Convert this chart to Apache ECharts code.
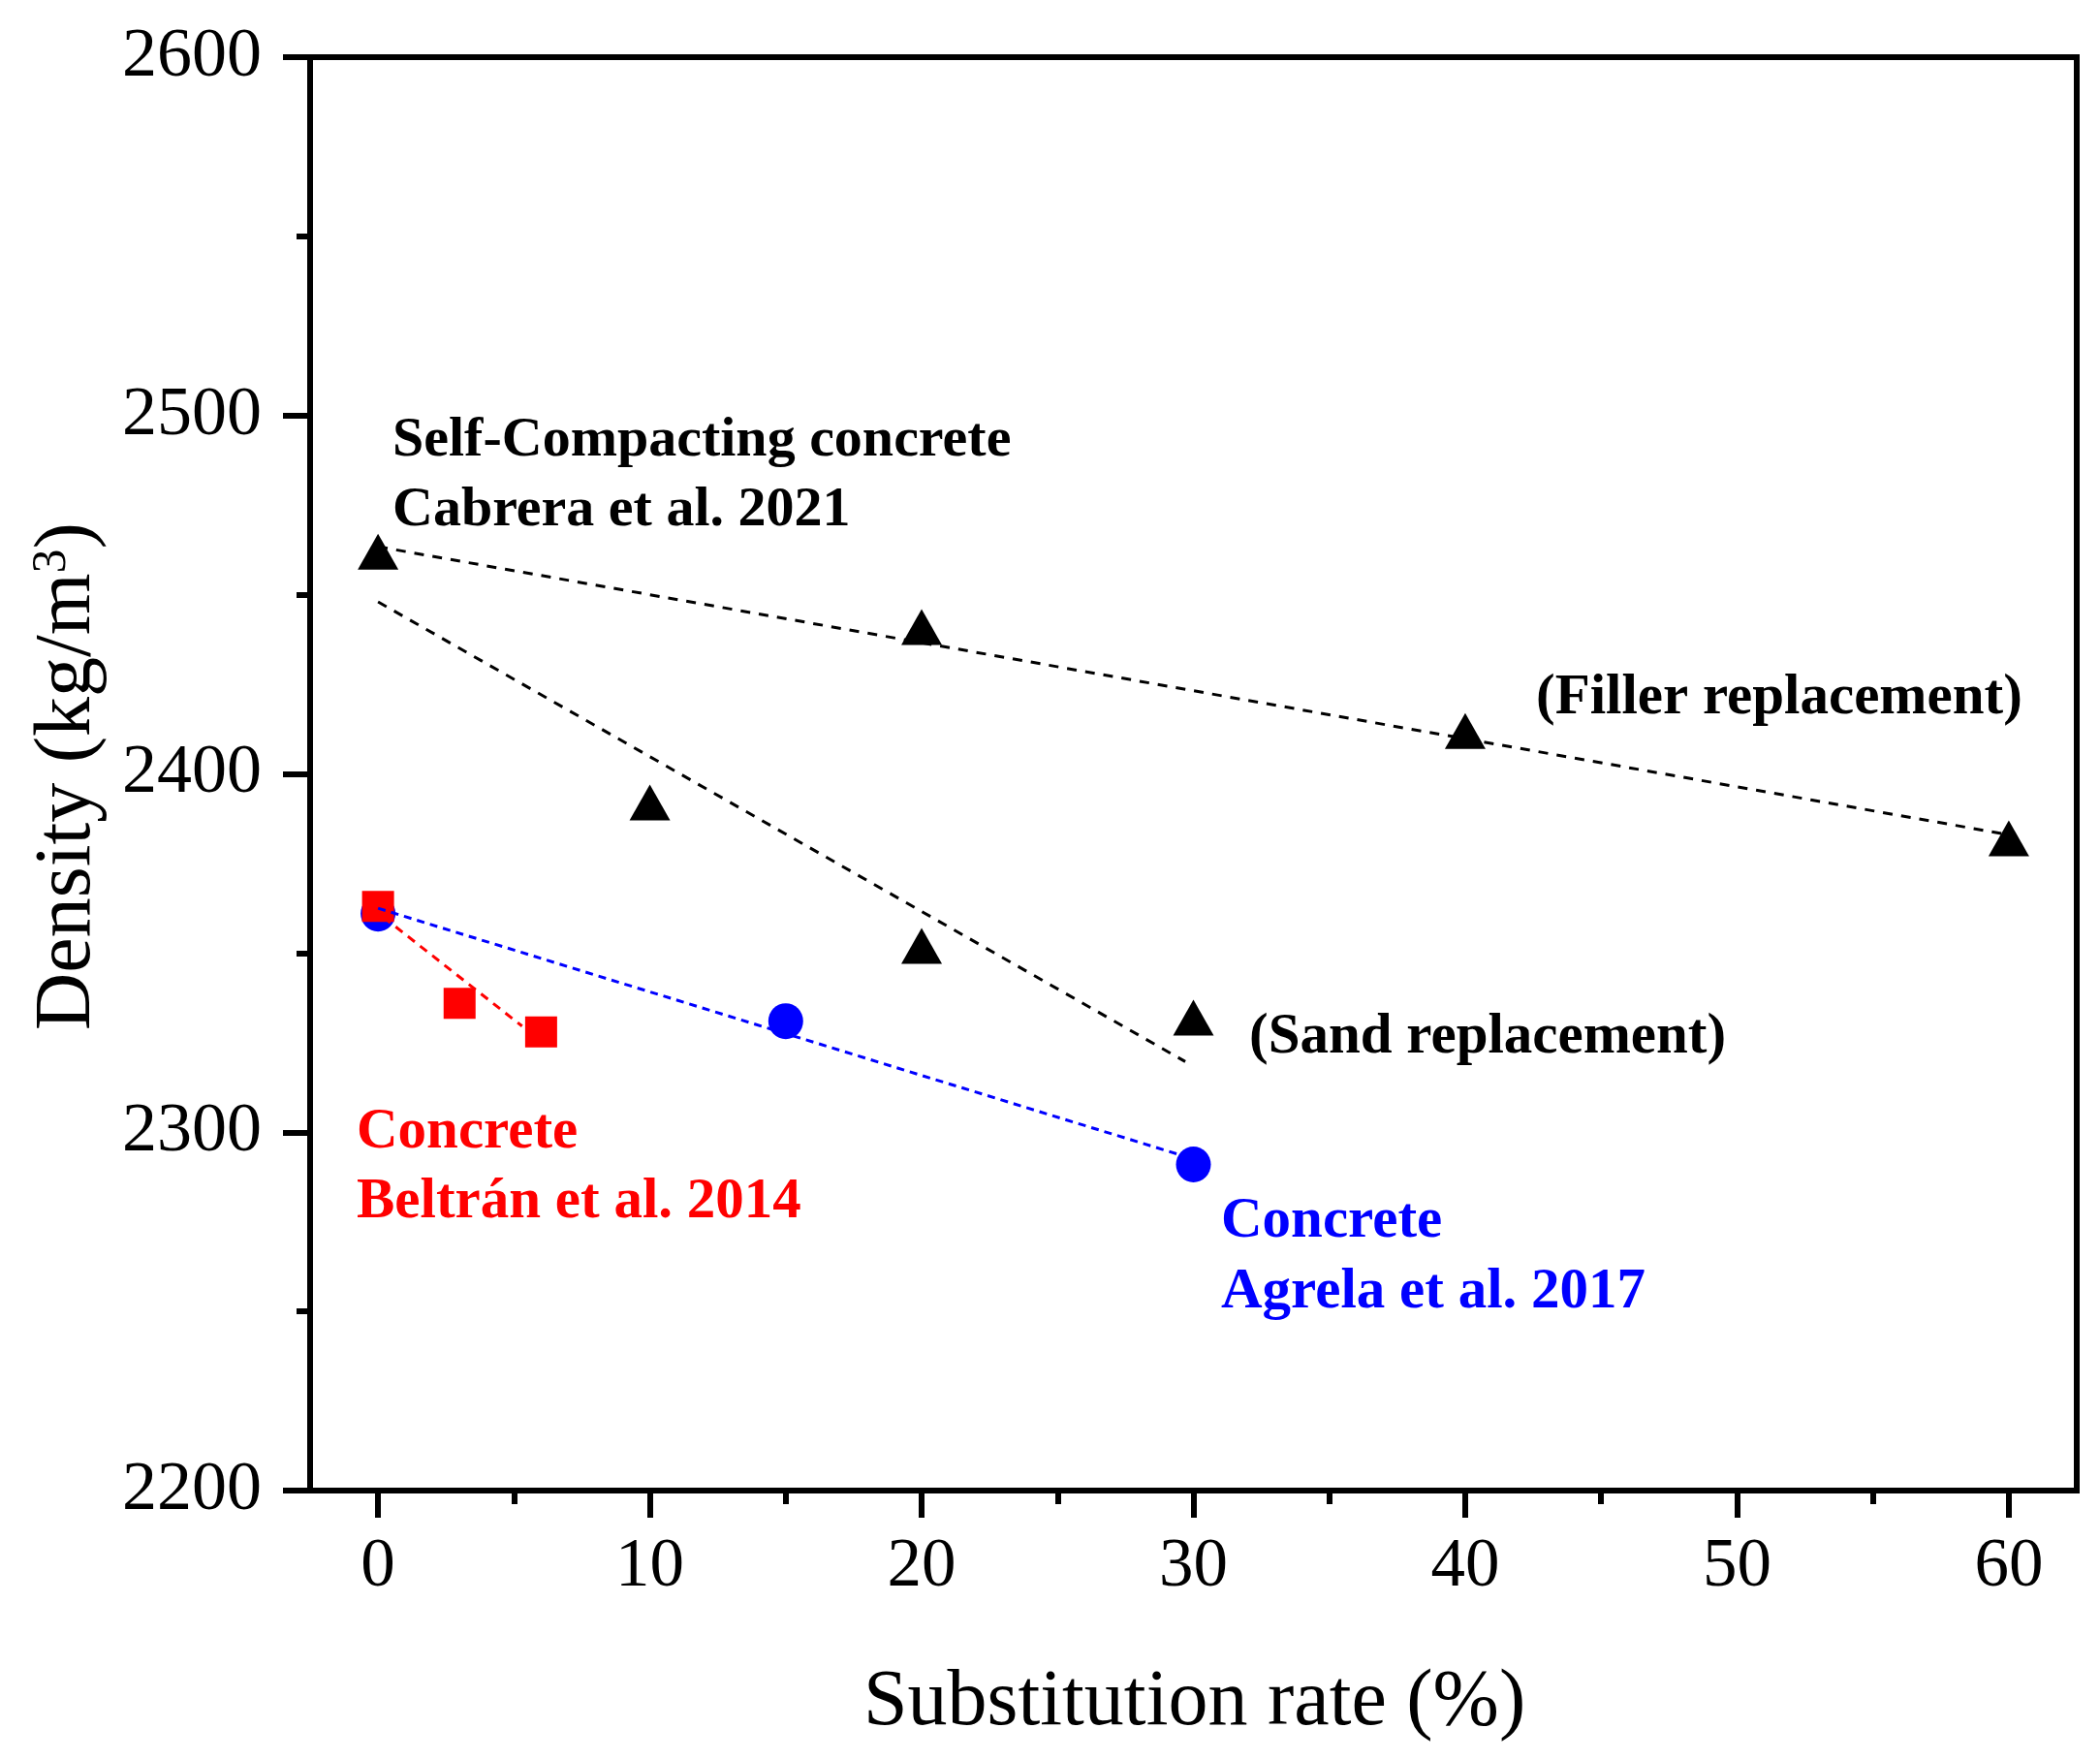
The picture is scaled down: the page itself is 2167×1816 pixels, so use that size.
<!DOCTYPE html>
<html>
<head>
<meta charset="utf-8">
<script src="https://cdn.jsdelivr.net/npm/echarts@6/dist/echarts.min.js"></script>
<style>
html,body{margin:0;padding:0;background:#fff;}
#chart{width:2167px;height:1816px;}
</style>
</head>
<body>
<div id="chart"></div>
<script>
// ---- data ----
const cabreraX = [0, 10, 20, 20, 30, 40, 60];
const cabreraY = [2462, 2392, 2441, 2352, 2332, 2412, 2382];
const agrelaX = [0, 15, 30];
const agrelaY = [2361, 2331, 2291];
const beltranX = [0, 3, 6];
const beltranY = [2363, 2336, 2328];
// dashed trend lines (end points)
const fillerTrendX = [0, 60];
const fillerTrendY = [2463.4, 2383];
const sandTrendX = [0, 29.7];
const sandTrendY = [2448, 2319.7];
const agrelaTrendX = [0, 29.5];
const agrelaTrendY = [2362.5, 2293.7];
const beltranTrendX = [0.2, 5.3];
const beltranTrendY = [2360, 2329.6];
// axis ticks
const xMajorTicks = [0, 10, 20, 30, 40, 50, 60];
const xMinorTicks = [5, 15, 25, 35, 45, 55];

const pairs = (xs, ys) => xs.map((x, i) => [x, ys[i]]);

const serif = '"Liberation Serif", "DejaVu Serif", serif';
const chart = echarts.init(document.getElementById('chart'), null, {renderer: 'canvas'});
const plain = v => String(v);

const option = {
  animation: false,
  backgroundColor: '#fff',
  grid: {left: 320, top: 59, width: 1823, height: 1479, show: true, borderColor: '#000', borderWidth: 6, backgroundColor: 'transparent'},
  xAxis: [{
    type: 'value', min: -2.5, max: 62.5,
    axisLine: {show: true, onZero: false, lineStyle: {color: '#000', width: 6}},
    axisTick: {show: true, customValues: xMajorTicks, length: 28, lineStyle: {color: '#000', width: 6}},
    axisLabel: {show: true, customValues: xMajorTicks, formatter: plain, margin: 44, color: '#000', fontFamily: serif, fontSize: 71},
    splitLine: {show: false}
  }, {
    type: 'value', min: -2.5, max: 62.5, gridIndex: 0, position: 'bottom',
    axisLine: {show: false, onZero: false},
    axisTick: {show: true, customValues: xMinorTicks, length: 14, lineStyle: {color: '#000', width: 6}},
    axisLabel: {show: false},
    splitLine: {show: false}
  }],
  yAxis: {
    type: 'value', min: 2200, max: 2600, interval: 100,
    axisLine: {show: true, onZero: false, lineStyle: {color: '#000', width: 6}},
    axisTick: {show: true, length: 28, lineStyle: {color: '#000', width: 6}},
    minorTick: {show: true, splitNumber: 2, length: 14, lineStyle: {color: '#000', width: 6}},
    axisLabel: {margin: 50, formatter: plain, color: '#000', fontFamily: serif, fontSize: 72},
    splitLine: {show: false}, minorSplitLine: {show: false}
  },
  series: [
    {type: 'line', data: pairs(fillerTrendX, fillerTrendY), symbol: 'none', z: 2,
     lineStyle: {color: '#000', width: 3, type: [10, 9]}},
    {type: 'line', data: pairs(sandTrendX, sandTrendY), symbol: 'none', z: 2,
     lineStyle: {color: '#000', width: 3, type: [10, 9]}},
    {type: 'scatter', data: pairs(cabreraX, cabreraY), symbol: 'triangle', symbolSize: [42, 37], z: 3,
     itemStyle: {color: '#000', opacity: 1}},
    {type: 'scatter', data: pairs(agrelaX, agrelaY), symbol: 'circle', symbolSize: [36, 37], z: 3,
     itemStyle: {color: '#0000FF', opacity: 1}},
    {type: 'line', data: pairs(beltranTrendX, beltranTrendY), symbol: 'none', z: 4,
     lineStyle: {color: '#FF0000', width: 3, type: [9, 7]}},
    {type: 'scatter', data: pairs(beltranX, beltranY), symbol: 'rect', symbolSize: [33, 32], z: 5,
     itemStyle: {color: '#FF0000', opacity: 1}},
    {type: 'line', data: pairs(agrelaTrendX, agrelaTrendY), symbol: 'none', z: 6,
     lineStyle: {color: '#0000FF', width: 3, type: [8, 6]}}
  ],
  graphic: [
    {type: 'text', left: 891, top: 1716, z: 10, style: {text: 'Substitution rate (%)', font: '82px ' + serif, fill: '#000'}},
    {type: 'text', x: 70, y: 801, rotation: Math.PI / 2, z: 10,
     style: {text: 'Density (kg/m{sup|3})', font: '82px ' + serif, fill: '#000', align: 'center', verticalAlign: 'middle',
             rich: {sup: {fontSize: 50, fontFamily: serif, verticalAlign: 'top', padding: [0, 0, 30, 0]}}}},
    {type: 'text', x: 405, y: 455, z: 10, style: {text: 'Self-Compacting concrete', font: 'bold 58px ' + serif, fill: '#000', verticalAlign: 'middle'}},
    {type: 'text', x: 405, y: 527, z: 10, style: {text: 'Cabrera et al. 2021', font: 'bold 58px ' + serif, fill: '#000', verticalAlign: 'middle'}},
    {type: 'text', x: 1585, y: 721, z: 10, style: {text: '(Filler replacement)', font: 'bold 59px ' + serif, fill: '#000', verticalAlign: 'middle'}},
    {type: 'text', x: 1289, y: 1071, z: 10, style: {text: '(Sand replacement)', font: 'bold 59px ' + serif, fill: '#000', verticalAlign: 'middle'}},
    {type: 'text', x: 368, y: 1169, z: 10, style: {text: 'Concrete', font: 'bold 59px ' + serif, fill: '#FF0000', verticalAlign: 'middle'}},
    {type: 'text', x: 368, y: 1241, z: 10, style: {text: 'Beltrán et al. 2014', font: 'bold 59px ' + serif, fill: '#FF0000', verticalAlign: 'middle'}},
    {type: 'text', x: 1260, y: 1261, z: 10, style: {text: 'Concrete', font: 'bold 59px ' + serif, fill: '#0000FF', verticalAlign: 'middle'}},
    {type: 'text', x: 1260, y: 1334, z: 10, style: {text: 'Agrela et al. 2017', font: 'bold 59px ' + serif, fill: '#0000FF', verticalAlign: 'middle'}}
  ]
};
chart.setOption(option);
</script>
</body>
</html>
